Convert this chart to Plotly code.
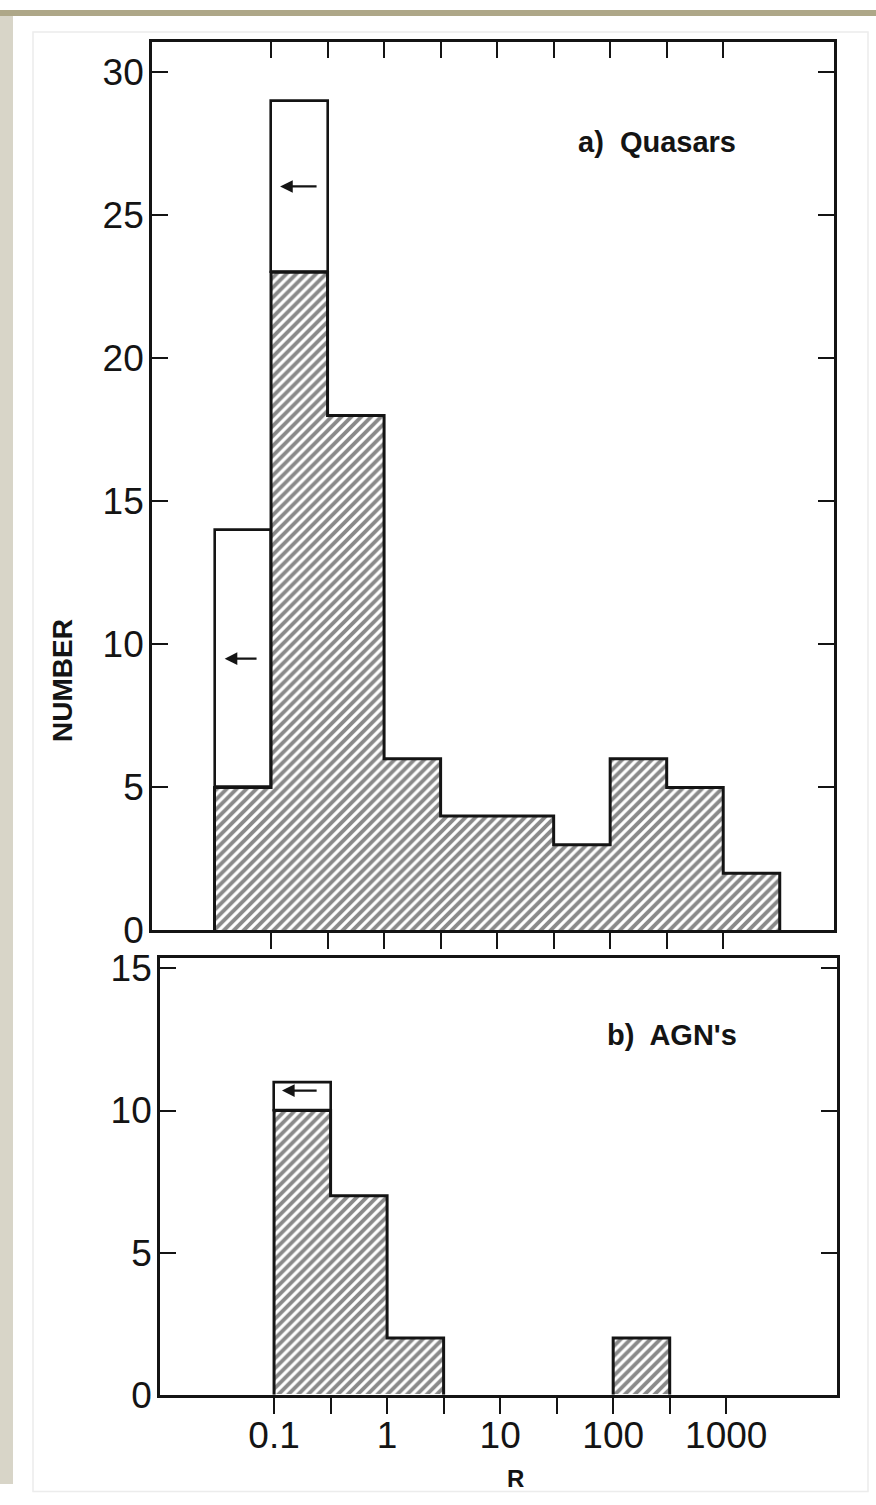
import plotly.graph_objects as go

# ---- data ----
# half-decade bins in log10(R): left edges
bin_left_log = [-1.5, -1.0, -0.5, 0.0, 0.5, 1.0, 1.5, 2.0, 2.5, 3.0]
bin_width_log = 0.5

# a) Quasars
quasar_hatched = [5, 23, 18, 6, 4, 4, 3, 6, 5, 2]
quasar_total = [14, 29, 18, 6, 4, 4, 3, 6, 5, 2]

# b) AGN's
agn_hatched = [0, 10, 7, 2, 0, 0, 0, 2, 0, 0]
agn_total = [0, 11, 7, 2, 0, 0, 0, 2, 0, 0]

# upper-limit arrows: (log10 tail, log10 head, y)
quasar_arrows = [(-1.115, -1.41, 9.5), (-0.584, -0.92, 26.0)]
agn_arrows = [(-0.61, -0.93, 10.7)]

x_tickvals = [-1.0, -0.5, 0.0, 0.5, 1.0, 1.5, 2.0, 2.5, 3.0]
x_ticktext = ["0.1", "", "1", "", "10", "", "100", "", "1000"]
y_top_ticks = [0, 5, 10, 15, 20, 25, 30]
y_bot_ticks = [0, 5, 10, 15]

W, H = 876, 1505
FONT = "Liberation Sans Narrow, Liberation Sans, Arial, sans-serif"
LFONT = "Liberation Sans, Arial, sans-serif"
INK = "#141414"
HATCH = dict(shape="/", size=7, solidity=0.55, fgcolor=INK, bgcolor="white")

# empirical vertical calibration of the rendered page
Y_SCALE, Y_OFF = 0.981, 8.0


def px_x(p):
    return p / W


def px_y(p):
    return 1 - ((p - Y_OFF) / Y_SCALE) / H


centers = [b + bin_width_log / 2 for b in bin_left_log]
edges = bin_left_log + [bin_left_log[-1] + bin_width_log]

fig = go.Figure()


def add_panel(hatched, total, xa, ya, arrows):
    # hatched bars
    fig.add_trace(go.Bar(
        x=centers, y=hatched, width=[bin_width_log] * len(centers),
        marker=dict(color="white", pattern=HATCH, line=dict(width=0)),
        xaxis=xa, yaxis=ya, showlegend=False, hoverinfo="skip"))
    # open (upper limit) parts
    ox, oy, ob = [], [], []
    for c, h, t in zip(centers, hatched, total):
        if t > h:
            ox.append(c)
            oy.append(t - h)
            ob.append(h)
    fig.add_trace(go.Bar(
        x=ox, y=oy, base=ob, width=[bin_width_log] * len(ox),
        marker=dict(color="white", line=dict(color=INK, width=2.6)),
        xaxis=xa, yaxis=ya, showlegend=False, hoverinfo="skip"))
    # step outline of hatched histogram, one segment per contiguous run
    sx, sy = [], []
    i, n = 0, len(hatched)
    while i < n:
        if hatched[i] > 0:
            j = i
            while j + 1 < n and hatched[j + 1] > 0:
                j += 1
            sx += [edges[i]] + edges[i:j + 1] + [edges[j + 1], None]
            sy += [0] + hatched[i:j + 1] + [0, None]
            i = j + 1
        else:
            i += 1
    fig.add_trace(go.Scatter(
        x=sx, y=sy, mode="lines", line=dict(color=INK, width=3, shape="hv"),
        connectgaps=False, xaxis=xa, yaxis=ya, showlegend=False,
        hoverinfo="skip"))
    for tail, head, yv in arrows:
        fig.add_annotation(
            x=head, y=yv, ax=tail, ay=yv, xref=xa, yref=ya,
            axref=xa, ayref=ya, showarrow=True, arrowhead=2,
            arrowsize=1.1, arrowwidth=2.3, arrowcolor=INK, text="")


add_panel(quasar_hatched, quasar_total, "x", "y", quasar_arrows)
add_panel(agn_hatched, agn_total, "x2", "y2", agn_arrows)

fig.update_layout(barmode="overlay", bargap=0)

axis_common = dict(
    showline=True, linecolor=INK, linewidth=2.7, showgrid=False,
    zeroline=False, tickcolor=INK, tickwidth=2, ticklen=16,
    tickfont=dict(family=FONT, size=37, color=INK),
)

# top panel
fig.update_layout(
    xaxis=dict(
        axis_common, domain=[px_x(152), px_x(834)], range=[-2.053, 3.98],
        anchor="y", tickmode="array", tickvals=x_tickvals, ticks="outside",
        showticklabels=False, mirror=True),
    xaxis3=dict(
        axis_common, domain=[px_x(152), px_x(834)], range=[-2.053, 3.98],
        anchor="y", overlaying="x", side="top", tickmode="array",
        tickvals=x_tickvals, ticks="inside", showticklabels=False),
    yaxis=dict(
        axis_common, domain=[px_y(930), px_y(40)], range=[0, 31.05],
        anchor="x", tickmode="array", tickvals=y_top_ticks, ticks="inside",
        mirror="ticks", ticklabelstandoff=-2),
    xaxis2=dict(
        axis_common, domain=[px_x(160), px_x(837)], range=[-2.009, 3.98],
        anchor="y2", tickmode="array", tickvals=x_tickvals,
        ticktext=x_ticktext, ticks="outside", mirror=True,
        ticklabelstandoff=-10),
    yaxis2=dict(
        axis_common, domain=[px_y(1395), px_y(958)], range=[0, 15.35],
        anchor="x2", tickmode="array", tickvals=y_bot_ticks, ticks="inside",
        mirror="ticks", ticklabelstandoff=-2),
)
# dummy trace so xaxis3 is drawn
fig.add_trace(go.Scatter(x=[None], y=[None], xaxis="x3", yaxis="y",
                         showlegend=False, hoverinfo="skip"))

label_font = dict(family=LFONT, size=29, color=INK, weight="bold")
fig.add_annotation(x=px_x(657), y=px_y(140), xref="paper", yref="paper",
                   text="a)  Quasars", showarrow=False, font=label_font,
                   xanchor="center", yanchor="middle")
fig.add_annotation(x=px_x(672), y=px_y(1035), xref="paper", yref="paper",
                   text="b)  AGN's", showarrow=False, font=label_font,
                   xanchor="center", yanchor="middle")
fig.add_annotation(x=px_x(63), y=px_y(680), xref="paper", yref="paper",
                   text="NUMBER", showarrow=False, textangle=-90,
                   font=dict(family=LFONT, size=28, color=INK, weight="bold"),
                   xanchor="center", yanchor="middle")
fig.add_annotation(x=px_x(515), y=px_y(1479), xref="paper", yref="paper",
                   text="R", showarrow=False,
                   font=dict(family=LFONT, size=24, color=INK, weight="bold"),
                   xanchor="center", yanchor="middle")

# scanned page border decorations
shapes = [
    dict(type="rect", xref="paper", yref="paper", x0=0, x1=px_x(13), y0=0, y1=1,
         fillcolor="#d8d5c8", line=dict(width=0), layer="below"),
    dict(type="rect", xref="paper", yref="paper", x0=0, x1=1, y0=px_y(14), y1=1,
         fillcolor="#aea788", line=dict(width=0), layer="below"),
    dict(type="rect", xref="paper", yref="paper", x0=px_x(33), x1=px_x(868),
         y0=px_y(1492), y1=px_y(30), fillcolor="rgba(0,0,0,0)",
         line=dict(color="#ececec", width=1.5), layer="below"),
]
fig.update_layout(
    width=W, height=H, margin=dict(l=0, r=0, t=0, b=0),
    paper_bgcolor="white", plot_bgcolor="white", shapes=shapes,
)

fig.write_html("out.html")
